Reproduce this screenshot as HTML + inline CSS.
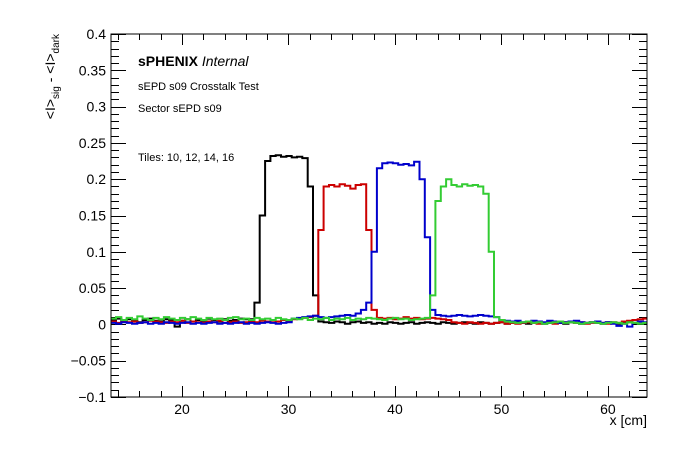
<!DOCTYPE html>
<html><head><meta charset="utf-8"><style>
body{margin:0;background:#fff;}
svg{display:block;font-family:"Liberation Sans",sans-serif;}
</style></head><body>
<svg id="chart" width="696" height="472" viewBox="0 0 696 472">
<rect width="696" height="472" fill="#fff"/>
<g id="ticks"></g>
<g id="series"></g>
<rect x="111" y="34" width="536" height="363" fill="none" stroke="#000" stroke-width="1"/>
<text x="138" y="66" font-size="14" font-weight="bold">sPHENIX <tspan font-weight="normal" font-style="italic">Internal</tspan></text>
<text x="138" y="90" font-size="11">sEPD s09 Crosstalk Test</text>
<text x="138" y="112" font-size="11">Sector sEPD s09</text>
<text x="138" y="161" font-size="11">Tiles: 10, 12, 14, 16</text>
<text x="647" y="425" font-size="14" text-anchor="end">x [cm]</text>
<text transform="translate(55,34) rotate(-90)" font-size="14" text-anchor="end">&lt;I&gt;<tspan font-size="10" dy="4">sig</tspan><tspan dy="-4"> - &lt;I&gt;</tspan><tspan font-size="10" dy="4">dark</tspan></text>
</svg>
<script>
const binStart = 13.3;
const binWidth = 0.5;
const xTicks = [20, 30, 40, 50, 60];
const yTicks = [-0.1, -0.05, 0, 0.05, 0.1, 0.15, 0.2, 0.25, 0.3, 0.35, 0.4];
const yTickLabels = ["−0.1", "−0.05", "0", "0.05", "0.1", "0.15", "0.2", "0.25", "0.3", "0.35", "0.4"];
const blackVals = [0.006,0.008,0.004,0.007,0.005,0.003,0.006,0.008,0.005,0.004,0.007,0.006,-0.003,0.005,0.007,0.004,0.006,0.005,0.008,0.006,0.004,0.007,0.005,0.006,0.008,0.007,0.007,0.03,0.15,0.225,0.232,0.233,0.231,0.232,0.23,0.231,0.229,0.19,0.04,0.004,0.003,0.002,0.004,0.003,0.001,0.003,0.004,0.002,0.003,0.001,0.002,0.001,0.003,0.002,0.001,0.002,0.003,0.001,0.002,0.003,0.002,0.001,0.003,0.002,0.001,0.002,0.003,0.002,0.001,0.003,0.002,0.001,0.002,0.003,0.001,0.002,0.003,0.002,0.001,0.002,0.003,0.001,0.002,0.003,0.002,0.001,0.003,0.002,0.001,0.002,0.003,0.002,0.001,0.003,0.002,0.001,0.002,0.003,0.002,0.001,0.002];
const redVals = [0.004,0.002,0.005,0.003,0.004,0.002,0.003,0.005,0.004,0.003,0.002,0.004,0.003,0.005,0.002,0.004,0.003,0.002,0.004,0.003,0.005,0.002,0.003,0.004,0.002,0.003,0.004,0.003,0.005,0.004,0.003,0.004,0.006,0.005,0.007,0.008,0.009,0.01,0.012,0.13,0.19,0.192,0.19,0.193,0.191,0.187,0.192,0.193,0.13,0.02,0.009,0.008,0.009,0.007,0.008,0.01,0.008,0.009,0.007,0.008,0.009,0.008,0.007,0.006,0.003,0.002,0.001,0.003,0.002,0.001,0.002,0.001,0.002,0.003,0.001,0.002,0.001,0.002,0.003,0.002,0.001,0.002,0.003,0.001,0.002,0.003,0.004,0.002,0.003,0.001,0.002,0.003,0.002,0.001,0.003,0.002,0.004,0.005,0.006,0.007,0.008];
const blueVals = [0.002,0.001,0.003,0.002,0.001,0.002,0.003,0.001,0.002,0.001,0.003,0.002,0.001,0.002,0.003,0.001,0.002,0.001,0.002,0.003,0.001,0.002,0.001,0.002,0.003,0.001,0.002,0.001,0.002,0.003,0.002,0.001,0.002,0.003,0.008,0.009,0.01,0.011,0.012,0.01,0.009,0.01,0.011,0.012,0.013,0.012,0.015,0.02,0.03,0.1,0.215,0.222,0.223,0.222,0.22,0.221,0.219,0.224,0.2,0.12,0.02,0.013,0.012,0.011,0.012,0.013,0.012,0.011,0.012,0.013,0.012,0.011,0.01,0.006,0.005,0.004,0.005,0.003,0.004,0.005,0.004,0.003,0.005,0.004,0.002,0.003,0.004,0.005,0.003,0.002,0.003,0.004,0.002,0.003,0.001,-0.002,0.001,-0.003,0.002,0.004,0.003];
const greenVals = [0.008,0.01,0.006,0.009,0.007,0.011,0.008,0.006,0.009,0.007,0.01,0.008,0.006,0.009,0.007,0.01,0.008,0.006,0.009,0.007,0.008,0.006,0.009,0.01,0.007,0.008,0.006,0.009,0.007,0.008,0.006,0.009,0.007,0.006,0.008,0.007,0.009,0.006,0.008,0.007,0.009,0.006,0.008,0.007,0.009,0.006,0.008,0.007,0.009,0.008,0.007,0.006,0.008,0.009,0.007,0.008,0.006,0.007,0.008,0.009,0.04,0.17,0.19,0.2,0.192,0.19,0.193,0.191,0.192,0.19,0.18,0.1,0.01,0.006,0.004,0.003,0.002,0.003,0.004,0.002,0.003,0.001,0.002,0.003,0.004,0.002,0.003,0.002,0.001,0.002,0.003,0.002,0.001,0.002,0.003,0.002,0.001,0.003,0.002,0.001,0.002];
const seriesVals = [blackVals, redVals, blueVals, greenVals];
const seriesNames = ["tile-10-series", "tile-12-series", "tile-14-series", "tile-16-series"];
const seriesColors = ["#000000", "#cc0000", "#0000cc", "#33cc33"];

const X0 = 111, X1 = 647, Y0 = 397, Y1 = 34;
const xMin = 13.33, xMax = 63.67, yMin = -0.1, yMax = 0.4;
const sx = v => X0 + (v - xMin) / (xMax - xMin) * (X1 - X0);
const sy = v => Y0 - (v - yMin) / (yMax - yMin) * (Y0 - Y1);
const NS = "http://www.w3.org/2000/svg";
const tg = document.getElementById("ticks");
function line(x1, y1, x2, y2, name) {
  const l = document.createElementNS(NS, "line");
  l.setAttribute("x1", x1); l.setAttribute("y1", y1); l.setAttribute("x2", x2); l.setAttribute("y2", y2);
  l.setAttribute("stroke", "#000"); l.setAttribute("stroke-width", "1");
  
  
  tg.appendChild(l);
}
// x ticks: minor every 2
for (let v = 14; v <= 63; v += 2) {
  const major = v % 10 === 0;
  const len = major ? 11 : 6;
  const x = Math.round(sx(v)) + 0.5;
  line(x, Y0, x, Y0 - len, "x-tick");
  line(x, Y1, x, Y1 + len, "x-tick-top");
}
xTicks.forEach(v => {
  const t = document.createElementNS(NS, "text");
  t.setAttribute("x", sx(v)); t.setAttribute("y", 414);
  t.setAttribute("text-anchor", "middle"); t.setAttribute("font-size", "14");
  t.textContent = v;
  
  
  tg.appendChild(t);
});
// y ticks: minor every 0.01
for (let i = -10; i <= 40; i++) {
  const v = i / 100;
  const major = i % 5 === 0;
  const len = major ? 15 : 8;
  const y = Math.round(sy(v)) + 0.5;
  line(X0, y, X0 + len, y, "y-tick");
  line(X1, y, X1 - len, y, "y-tick-right");
}
yTicks.forEach((v, i) => {
  const t = document.createElementNS(NS, "text");
  t.setAttribute("x", 106); t.setAttribute("y", sy(v) + 5);
  t.setAttribute("text-anchor", "end"); t.setAttribute("font-size", "14");
  t.textContent = yTickLabels[i].replace("−", "−");
  
  
  tg.appendChild(t);
});
// series
const sg = document.getElementById("series");
seriesVals.forEach((vals, s) => {
  let d = "";
  vals.forEach((v, i) => {
    const xa = Math.max(binStart + i * binWidth, xMin);
    const xb = Math.min(binStart + (i + 1) * binWidth, xMax);
    if (xb <= xa) return;
    const y = sy(v).toFixed(1);
    d += (d === "" ? "M" : "L") + sx(xa).toFixed(1) + "," + y + "L" + sx(xb).toFixed(1) + "," + y;
  });
  const p = document.createElementNS(NS, "path");
  p.setAttribute("d", d);
  p.setAttribute("fill", "none");
  p.setAttribute("stroke", seriesColors[s]);
  p.setAttribute("stroke-width", "2");
  
  
  sg.appendChild(p);
});
</script>
</body></html>
